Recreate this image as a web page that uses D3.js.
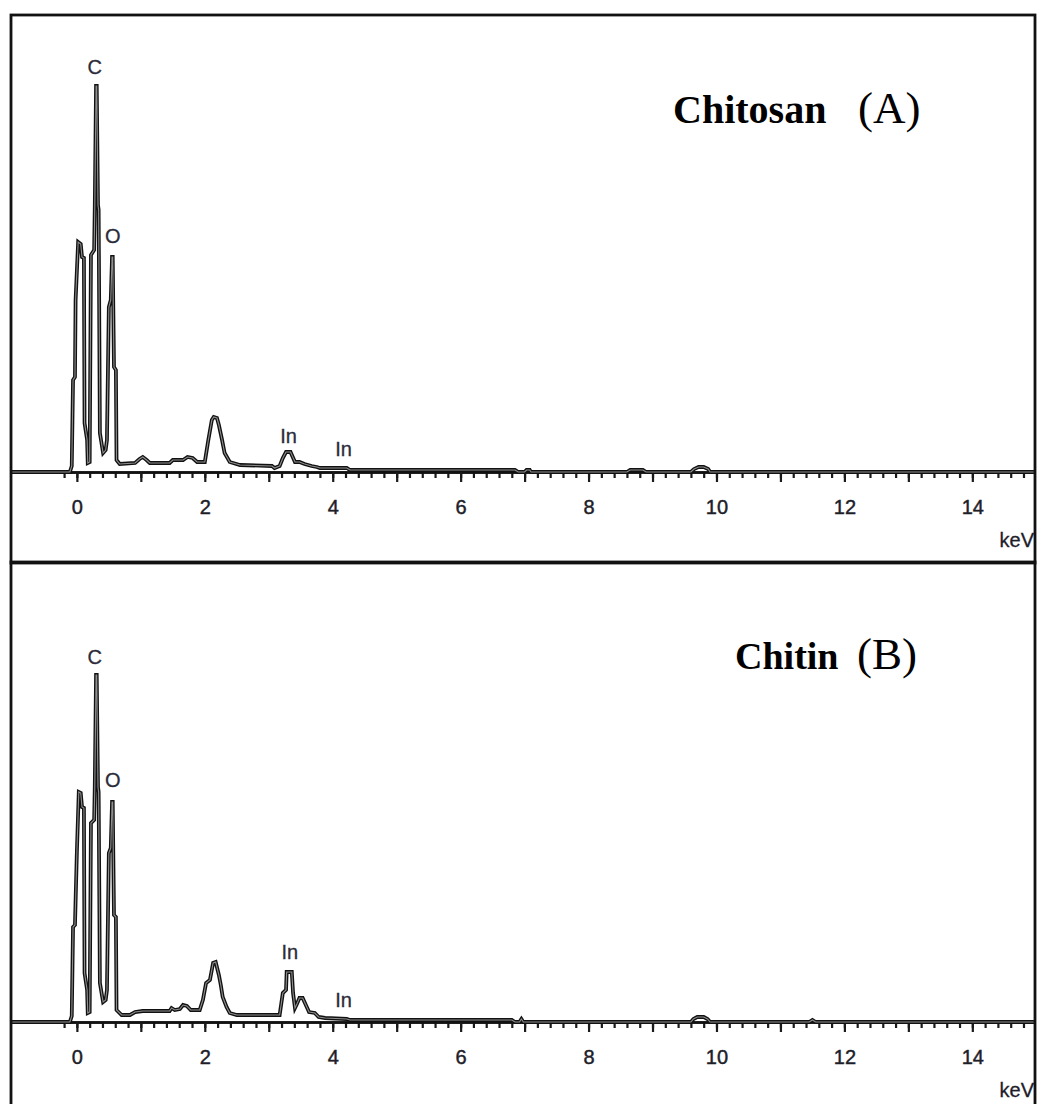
<!DOCTYPE html>
<html>
<head>
<meta charset="utf-8">
<script src="https://cdn.jsdelivr.net/npm/d3@7"></script>
<style>
  body { margin: 0; background: #fff; }
  svg { display: block; }
  .tick text { font-family: "Liberation Sans", Arial, sans-serif; font-size: 20px; fill: #1e1e2a; stroke: #1e1e2a; stroke-width: 0.45px; }
  .elem { font-family: "Liberation Sans", Arial, sans-serif; font-size: 20px; fill: #2b2b3a; stroke: #2b2b3a; stroke-width: 0.3px; }
  .unit { font-family: "Liberation Sans", Arial, sans-serif; font-size: 20px; fill: #1e1e2a; stroke: #1e1e2a; stroke-width: 0.3px; }
  .title { font-family: "Liberation Serif", "Times New Roman", serif; fill: #000; }
</style>
</head>
<body>
<svg></svg>
<script>
// EDS spectra, [keV, counts]
const chitosanKeV = [-1.03,-0.11,-0.08,-0.06,-0.03,-0.02,0.02,0.06,0.08,0.11,0.12,0.16,0.17,0.20,0.22,0.27,0.28,0.30,0.31,0.33,0.34,0.36,0.41,0.45,0.47,0.50,0.53,0.55,0.56,0.58,0.61,0.62,0.67,0.91,0.98,1.03,1.09,1.14,1.45,1.50,1.66,1.73,1.81,1.88,2.00,2.05,2.11,2.14,2.19,2.22,2.27,2.31,2.39,2.55,3.05,3.09,3.17,3.22,3.27,3.34,3.41,3.48,3.56,3.67,3.75,3.80,4.22,4.27,6.85,6.90,7.00,7.03,7.08,7.10,8.60,8.65,8.85,8.90,9.60,9.65,9.72,9.80,9.87,9.90,15.0];
const chitosanCounts = [0,0,6,92,95,172,230,228,215,214,49,32,9,10,217,222,265,386,386,267,262,39,19,22,32,165,172,215,215,105,102,12,8,9,13,15,12,9,9,12,12,15,14,10,10,30,52,55,54,47,32,19,10,7,6,4,6,14,20,20,10,10,8,6,5,4,4,2,2,0,0,2,2,0,0,2,2,0,0,3,5,5,3,0,0];

const chitinKeV = [-1.03,-0.11,-0.08,-0.06,-0.03,0.00,0.03,0.06,0.08,0.11,0.12,0.16,0.17,0.20,0.22,0.27,0.28,0.30,0.31,0.33,0.34,0.36,0.41,0.45,0.47,0.50,0.53,0.55,0.56,0.58,0.61,0.62,0.70,0.83,0.91,1.03,1.45,1.48,1.53,1.61,1.66,1.72,1.78,1.92,1.97,2.02,2.08,2.13,2.17,2.22,2.25,2.28,2.34,2.39,2.50,3.17,3.22,3.27,3.28,3.36,3.38,3.41,3.44,3.48,3.53,3.58,3.63,3.72,3.78,3.88,4.22,4.27,6.80,6.85,6.92,6.95,6.98,9.60,9.64,9.70,9.80,9.86,9.90,11.45,11.50,11.55,15.0];
const chitinCounts = [0,0,6,95,97,170,230,229,215,214,49,32,9,10,199,202,235,347,347,235,230,39,20,22,32,169,174,220,220,107,105,12,7,7,10,11,11,14,12,13,17,16,12,12,22,39,42,59,60,47,37,25,15,9,7,7,29,32,50,50,29,14,18,24,24,17,10,9,5,4,3,2,2,0,0,3,0,0,3,5,5,3,0,0,2,0,0];

// peak labels
const chitosanLabels = ['C', 'O', 'In', 'In'];
const chitosanLabelKeV = [0.28, 0.56, 3.31, 4.17];
const chitosanLabelCounts = [405, 236, 36, 23];
const chitinLabels = ['C', 'O', 'In', 'In'];
const chitinLabelKeV = [0.28, 0.56, 3.33, 4.17];
const chitinLabelCounts = [365, 242, 70, 22];

const xTickLabels = [0, 2, 4, 6, 8, 10, 12, 14];

let svg = d3.select('svg')
    .attr('width', 1038)
    .attr('height', 1104);

let xScale = d3.scaleLinear()
    .domain([-1.03, 14.98])
    .range([11, 1035]);

function drawPanel(opts) {
    const {top, baseline, keV, counts, labels, labelKeV, labelCounts, name, letter, nameX, letterX, titleY, nameSize, id} = opts;
    const height = 548;

    let yScale = d3.scaleLinear()
        .domain([0, 400])
        .range([baseline, baseline - 400]);

    let g = svg.append('g');

    g.append('clipPath')
        .attr('id', id)
        .append('rect')
        .attr('x', 11).attr('y', top)
        .attr('width', 1024).attr('height', height);

    let inner = g.append('g').attr('clip-path', `url(#${id})`);

    // minor ticks every 0.2 keV
    let minorAxis = d3.axisBottom(xScale)
        .tickValues(d3.range(-1, 75).map(i => i * 0.2).filter(v => v > -0.3 && v < 15))
        .tickSize(6)
        .tickSizeOuter(0)
        .tickFormat('');
    inner.append('g')
        .attr('transform', `translate(0, ${baseline})`)
        .call(minorAxis);

    // major ticks every keV, labels on even values
    let majorAxis = d3.axisBottom(xScale)
        .tickValues(d3.range(0, 15))
        .tickSize(10)
        .tickSizeOuter(0)
        .tickPadding(18)
        .tickFormat(d => xTickLabels.indexOf(d) > -1 ? d : '');
    inner.append('g')
        .attr('transform', `translate(0, ${baseline})`)
        .call(majorAxis);

    inner.selectAll('.domain').attr('stroke', '#111').attr('stroke-width', 2.4);
    inner.selectAll('.tick line').attr('stroke', '#1a1a1a').attr('stroke-width', 2.2);

    inner.append('text')
        .classed('unit', true)
        .attr('x', 1034)
        .attr('y', baseline + 75)
        .attr('text-anchor', 'end')
        .text('keV');

    // spectrum, drawn as a dark double line
    let data = keV.map((k, i) => [k, counts[i]]);
    let line = d3.line()
        .x(d => xScale(d[0]))
        .y(d => yScale(d[1]));

    inner.append('path')
        .datum(data)
        .attr('d', line)
        .attr('fill', 'none')
        .attr('stroke', '#111')
        .attr('stroke-width', 3.8);

    inner.append('path')
        .datum(data)
        .attr('d', line)
        .attr('fill', 'none')
        .attr('stroke', '#8f8f8f')
        .attr('stroke-width', 1.1);

    inner.selectAll('.elem')
        .data(labels)
        .enter()
        .append('text')
        .classed('elem', true)
        .attr('x', (d, i) => xScale(labelKeV[i]))
        .attr('y', (d, i) => yScale(labelCounts[i]))
        .attr('dy', '0.36em')
        .attr('text-anchor', 'middle')
        .text(d => d);

    // titles
    g.append('text')
        .classed('title', true)
        .attr('x', nameX)
        .attr('y', titleY)
        .style('font-weight', 'bold')
        .style('font-size', nameSize + 'px')
        .text(name);

    g.append('text')
        .classed('title', true)
        .attr('x', letterX)
        .attr('y', titleY)
        .style('font-size', '45px')
        .text(letter);

    // frame
    g.append('rect')
        .attr('x', 11).attr('y', top)
        .attr('width', 1024).attr('height', height)
        .attr('fill', 'none')
        .attr('stroke', '#111')
        .attr('stroke-width', 2.8);
}

drawPanel({
    id: 'clipA', top: 15, baseline: 472,
    keV: chitosanKeV, counts: chitosanCounts,
    labels: chitosanLabels, labelKeV: chitosanLabelKeV, labelCounts: chitosanLabelCounts,
    name: 'Chitosan', letter: '(A)', nameX: 673, letterX: 858, titleY: 123, nameSize: 40
});

drawPanel({
    id: 'clipB', top: 562, baseline: 1022,
    keV: chitinKeV, counts: chitinCounts,
    labels: chitinLabels, labelKeV: chitinLabelKeV, labelCounts: chitinLabelCounts,
    name: 'Chitin', letter: '(B)', nameX: 735, letterX: 857, titleY: 669, nameSize: 38
});
</script>
</body>
</html>
